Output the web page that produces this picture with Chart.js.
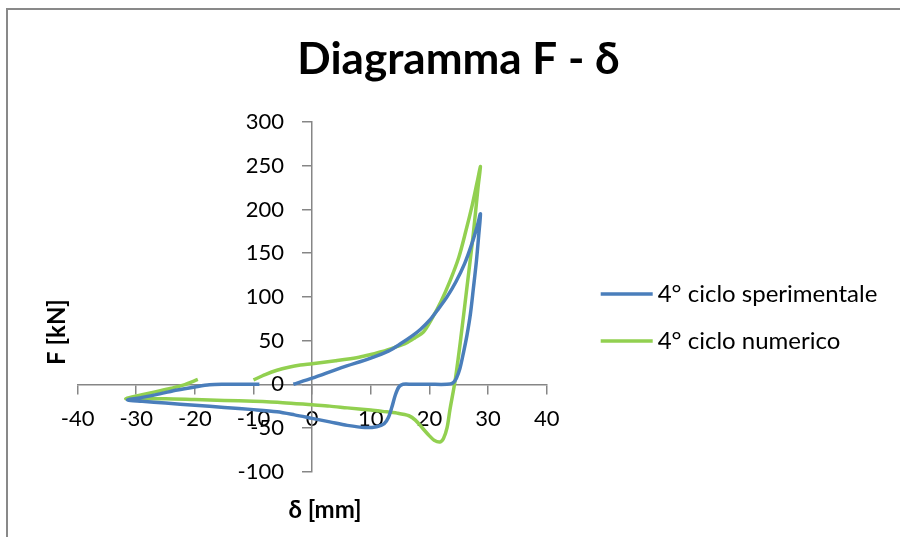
<!DOCTYPE html>
<html>
<head>
<meta charset="utf-8">
<title>Diagramma F - δ</title>
<script src="https://cdn.jsdelivr.net/npm/chart.js@4.4.1/dist/chart.umd.min.js"></script>
<style>
  html, body { margin: 0; padding: 0; background: #fff; }
  canvas { display: block; }
</style>
</head>
<body>
<canvas id="chart" width="900" height="537"></canvas>
<script>
// 4° ciclo sperimentale: spostamento δ [mm], forza F [kN]
const spDelta = [-3.2, 0, 5, 10, 13, 15, 17, 18.5, 20, 21.5, 23, 24.5, 26, 27.2, 28.2, 28.7,
  28.4, 28.0, 27.5, 27.0, 26.4, 25.8, 25.2, 24.6, 24.0, 23, 20, 17, 15.5, 14.8, 14.2, 13.6, 13.0, 12.3, 11, 9,
  6, 3, 0, -3, -6, -10, -15, -20, -25, -29, -31.5,
  -29, -26, -23, -20, -17.5, -15, -12, -9];
const spForce = [0, 7, 19, 30, 38, 46, 55, 63, 73, 86, 100, 117, 138, 160, 182, 195,
  170, 140, 110, 81, 56, 36, 18, 7, 1.5, 0, 0, 0, 0, -3, -12, -26, -38, -45, -48.5, -49.5,
  -47, -43, -39, -35, -31.5, -29, -26.5, -24, -21.5, -19.5, -18,
  -15, -11, -6.5, -3, -0.5, 0, 0, 0];

// 4° ciclo numerico
const numDelta = [-10, -8, -6, -4, -2, 0, 4, 8, 10, 12, 14, 16, 17.5, 19, 20.5, 22, 23.5, 25, 26.2, 27.3, 28.1, 28.7,
  28.3, 27.5, 26.4, 25.3, 24.4, 23.5, 23, 22.4, 21.8, 20.8, 20, 18.8, 17.6, 16.5, 14.5, 12, 10, 6, 3, 0,
  -5, -10, -15, -20, -25, -29, -31.8,
  -29, -27, -24, -22, -19.5];
const numForce = [5, 11, 16, 19.5, 22, 23.5, 27, 31, 34, 37.5, 42, 47, 53, 60, 76, 95, 118, 145, 175, 205, 230, 249,
  226, 173, 111, 50, 5, -29, -50, -62, -66, -64, -59, -50, -41, -36, -33, -31, -29.5, -27, -25, -23.5,
  -21, -19.5, -18.5, -17.5, -16.5, -16.5, -16.5,
  -12, -9, -4.5, -1, 5.5];

const xTicks = [-40, -30, -20, -10, 0, 10, 20, 30, 40];
const yTicks = [-100, -50, 0, 50, 100, 150, 200, 250, 300];

const FONT = 'Lato, "Open Sans", sans-serif';
const AXIS_GREY = '#868686';
// the y labels sit right-aligned on the axis line; pad them away from the tick marks
const Y_LABEL_GAP = '     ';

const toPoints = (xs, ys) => xs.map((x, i) => ({ x: x, y: ys[i] }));

// legend, axis titles and outer frame
const decorations = {
  id: 'decorations',
  beforeDraw(chart) {
    const ctx = chart.ctx;
    ctx.save();
    ctx.fillStyle = '#fff';
    ctx.fillRect(0, 0, chart.width, chart.height);
    ctx.strokeStyle = '#898989';
    ctx.lineWidth = 2;
    ctx.strokeRect(7, 9, chart.width + 20, chart.height + 20);
    ctx.restore();
  },
  afterDraw(chart) {
    const { ctx, chartArea } = chart;
    ctx.save();
    ctx.fillStyle = '#000';
    ctx.textBaseline = 'middle';

    // axis titles
    ctx.font = 'bold 24px ' + FONT;
    ctx.textAlign = 'center';
    ctx.fillText('δ [mm]', 325, 510);
    ctx.translate(57, 332);
    ctx.rotate(-Math.PI / 2);
    ctx.fillText('F [kN]', 0, 0);
    ctx.setTransform(1, 0, 0, 1, 0, 0);

    // legend
    ctx.font = '24px ' + FONT;
    ctx.textAlign = 'left';
    const x0 = chartArea.right + 54;
    chart.data.datasets.forEach((ds, i) => {
      const y = chartArea.top + 172 + i * 47;
      ctx.strokeStyle = ds.borderColor;
      ctx.lineWidth = 3.5;
      ctx.beginPath();
      ctx.moveTo(x0, y);
      ctx.lineTo(x0 + 52, y);
      ctx.stroke();
      ctx.fillText(ds.label, x0 + 57, y);
    });
    ctx.restore();
  }
};

const axisCommon = {
  type: 'linear',
  border: { display: true, color: AXIS_GREY, width: 1.5 },
  grid: { display: true, drawOnChartArea: false, drawTicks: true, tickLength: 9, color: AXIS_GREY, lineWidth: 1.5 },
};

// empty side scales that only reserve room for the axis title and the legend
const spacer = (position, width) => ({
  type: 'linear',
  position: position,
  display: true,
  grid: { display: false, drawTicks: false },
  border: { display: false },
  ticks: { display: false },
  afterFit: s => { s.width = width; }
});

new Chart(document.getElementById('chart'), {
  type: 'scatter',
  data: {
    datasets: [{
      label: '4° ciclo sperimentale',
      data: toPoints(spDelta, spForce),
      borderColor: '#4a7ebb',
      backgroundColor: '#4a7ebb',
      showLine: true,
      borderWidth: 3.5,
      pointRadius: 0,
      tension: 0.3,
      fill: false
    }, {
      label: '4° ciclo numerico',
      data: toPoints(numDelta, numForce),
      borderColor: '#92d050',
      backgroundColor: '#92d050',
      showLine: true,
      borderWidth: 3.5,
      pointRadius: 0,
      tension: 0.3,
      fill: false
    }]
  },
  options: {
    responsive: false,
    animation: false,
    layout: { padding: { left: 17, right: 0, top: 0, bottom: 65.3 } },
    font: { family: FONT },
    plugins: {
      legend: { display: false },
      tooltip: { enabled: false },
      title: {
        display: true,
        text: 'Diagramma F - δ',
        color: '#000',
        font: { family: FONT, size: 44, weight: 'bold', lineHeight: 1.2 },
        padding: { top: 33, bottom: 36.2 }
      }
    },
    scales: {
      x: Object.assign({}, axisCommon, {
        position: { y: 0 },
        min: -40, max: 40,
        afterBuildTicks: s => { s.ticks = xTicks.map(v => ({ value: v })); },
        ticks: { color: '#000', font: { family: FONT, size: 22 }, padding: 12, maxRotation: 0, autoSkip: false }
      }),
      y: Object.assign({}, axisCommon, {
        position: { x: 0 },
        min: -100, max: 300,
        afterBuildTicks: s => { s.ticks = yTicks.map(v => ({ value: v })); },
        ticks: {
          color: '#000', font: { family: FONT, size: 22 }, autoSkip: false,
          callback: v => v + Y_LABEL_GAP
        }
      }),
      leftRoom: spacer('left', 60.6),
      rightRoom: spacer('right', 353.3)
    }
  },
  plugins: [decorations]
});
</script>
</body>
</html>
